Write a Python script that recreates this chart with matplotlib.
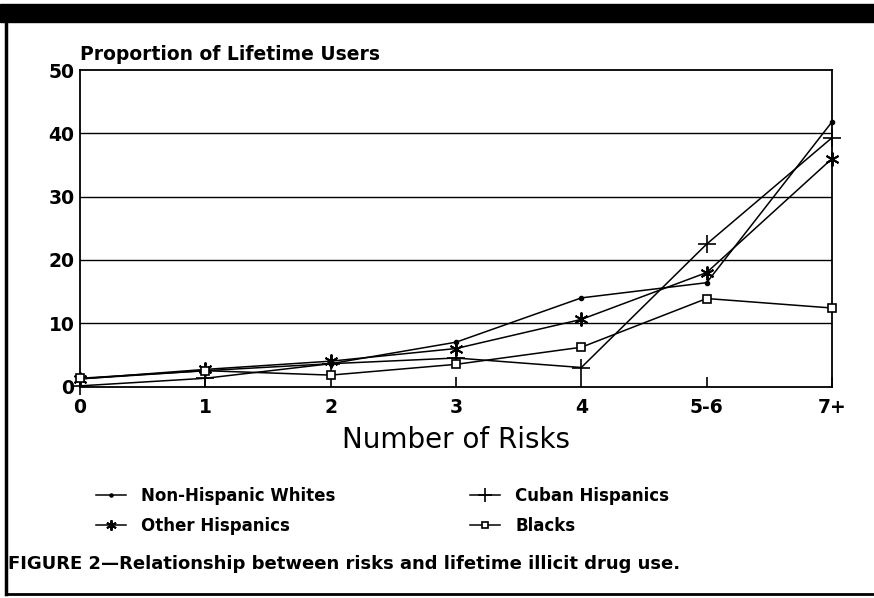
import numpy as np
import matplotlib
matplotlib.use("Agg")
from matplotlib import pyplot as plt
from matplotlib.lines import Line2D
from matplotlib.patches import Rectangle

plt.rcParams['font.family'] = ['DejaVu Sans']

risks = ["0", "1", "2", "3", "4", "5-6", "7+"]
whites = [1.2, 2.5, 3.6, 7.0, 14.0, 16.4, 41.8]
cuban = [0.1, 1.3, 3.6, 4.5, 3.0, 22.5, 39.3]
other = [1.2, 2.7, 4.0, 6.0, 10.6, 18.0, 36.0]
blacks = [1.3, 2.5, 1.8, 3.5, 6.2, 13.9, 12.4]
yticks = [0, 10, 20, 30, 40, 50]

W, H = 874, 598
fig = plt.figure(figsize=(W/100, H/100), dpi=100)
ax = fig.add_axes([80/W, 1-386.5/H, (832-80)/W, (386.5-70)/H])

x = np.arange(len(risks))
lw = 1.1
ax.plot(x, whites, color="black", lw=lw, marker="o", ms=3, label="Non-Hispanic Whites", clip_on=False, zorder=3)
ax.plot(x, other, color="black", lw=lw, marker=(6, 2, 0), ms=10, mew=1.4, label="Other Hispanics", clip_on=False, zorder=3)
ax.plot(x, cuban, color="black", lw=lw, marker="+", ms=13, mew=1.2, label="Cuban Hispanics", clip_on=False, zorder=3)
ax.plot(x, blacks, color="black", lw=lw, marker="s", ms=6, mfc="white", mew=1.2, label="Blacks", clip_on=False, zorder=3)

for g in yticks[1:-1]:
    ax.axhline(g, color="black", lw=1.0, zorder=1)

ax.set_xlim(0, len(risks)-1)
ax.set_ylim(0, 50)
ax.set_xticks(x)
ax.set_xticklabels(risks, fontsize=13.5, fontweight="bold")
ax.set_yticks(yticks)
ax.set_yticklabels([str(v) for v in yticks], fontsize=13.5, fontweight="bold")
ax.tick_params(axis="x", direction="in", length=7, width=1.2, pad=8)
ax.tick_params(axis="y", length=0, pad=4)
for s in ax.spines.values():
    s.set_linewidth(1.3)

ax.text(0, 1.02, "Proportion of Lifetime Users", transform=ax.transAxes,
        fontsize=13.5, fontweight="bold", ha="left", va="bottom")
ax.set_xlabel("Number of Risks", fontsize=20, labelpad=7)

h, l = ax.get_legend_handles_labels()
fig.legend(h, l, ncol=2, loc="upper left", bbox_to_anchor=(81/W, 1-472/H),
           frameon=False, prop={"weight": "bold", "size": 12}, markerscale=0.75,
           handlelength=1.8, columnspacing=8.1, labelspacing=0.7, handletextpad=0.9)

fig.text(8/W, 1-564/H, "FIGURE 2\u2014Relationship between risks and lifetime illicit drug use.",
         fontsize=13.0, fontweight="bold", ha="left", va="center")

# frame around the figure
fig.patches.append(Rectangle((0, 1-22/H), 1, 18/H, transform=fig.transFigure,
                             color="black", zorder=5))
fig.lines.append(Line2D([5.5/W, 5.5/W], [1-22/H, 1-594/H], transform=fig.transFigure,
                        color="black", lw=2.5))
fig.lines.append(Line2D([5.5/W, 1], [1-594/H, 1-594/H], transform=fig.transFigure,
                        color="black", lw=2.0))

fig.savefig("out.png", dpi=100)
